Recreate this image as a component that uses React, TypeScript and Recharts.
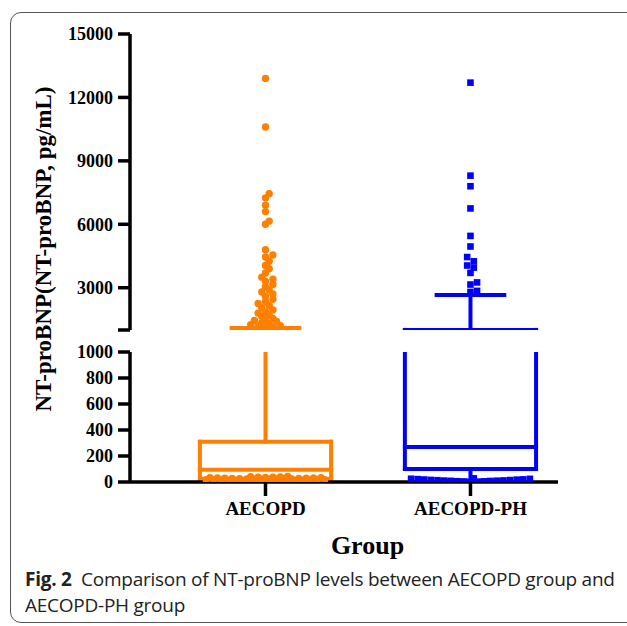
// App.tsx
// Box-and-whisker chart (10-90 style whiskers + outlying points) with a broken Y axis.
// Two stacked Recharts panels share one numeric X scale: 1000–15000 on top, 0–1000 below.

import * as React from "react";
import { ComposedChart, Scatter, XAxis, YAxis, ReferenceLine } from "recharts";

const groups = ["AECOPD", "AECOPD-PH"];
const groupColors = ["#FF7F00", "#0000FF"];

// [lower whisker, Q1, median, Q3, upper whisker]
const aecopdBox = [5, 25, 95, 310, 1100];
const aecopdPhBox = [10, 100, 270, 1005, 2650];

// points drawn outside the whiskers
const aecopdPoints = [
  12900, 10600, 7450, 7250, 6900, 6600, 6150, 6000, 4800, 4550, 4450, 4250,
  4050, 3900, 3700, 3500, 3400, 3300, 3150, 3050, 2900, 2800, 2700, 2600,
  2450, 2350, 2250, 2150, 2050, 1950, 1850, 1800, 1700, 1650, 1550, 1500,
  1450, 1400, 1350, 1300, 1250, 1200, 1180, 1150, 1120,
  2, 3, 4, 5, 6, 7, 8, 9, 10, 11, 12, 13, 14, 15, 16, 17, 18, 19, 20, 21,
  22, 23, 24, 25, 26, 27, 28, 29, 30, 31, 32, 33, 34, 35, 36, 37, 38, 40, 42,
];
const aecopdPhPoints = [
  12700, 8300, 7800, 6750, 5450, 4950, 4450, 4250, 4050, 3950, 3700, 3250,
  3150, 2850, 2800,
  1, 2, 4, 5, 6, 8, 9, 10, 11, 12, 14, 15, 16, 18, 19, 20, 22, 24, 25, 28,
];

const topTicks = [1000, 3000, 6000, 9000, 12000, 15000];
const bottomTicks = [0, 200, 400, 600, 800, 1000];

const W = 627;
const H = 626;
const PLOT_LEFT = 130;
const PLOT_RIGHT = 558;
const X_DOMAIN = [0.339, 2.427];
const BOX_HALF = 0.32;
const CAP_HALF = 0.165;

const serif = "'Liberation Serif', 'Times New Roman', serif";

interface IPanel {
  domain: [number, number];
  top: number;
  bottom: number;
  ticks: number[];
  showX: boolean;
}

const panels: IPanel[] = [
  { domain: [1000, 15000], top: 34, bottom: 330, ticks: topTicks, showX: false },
  { domain: [0, 1000], top: 352, bottom: 482, ticks: bottomTicks, showX: true },
];

const pxPerX = (PLOT_RIGHT - PLOT_LEFT) / (X_DOMAIN[1] - X_DOMAIN[0]);

// simple deterministic beeswarm: spread points sideways until they stop overlapping
function swarm(values: number[], pxPerY: number, d: number, overlap: number, maxHalf: number): number[] {
  const order = values.map((_, i) => i).sort((a, b) => values[a] - values[b]);
  const placed: { x: number; y: number }[] = [];
  const out: number[] = new Array(values.length).fill(0);
  const step = d * 0.5;
  const minDist = d * overlap;
  for (const i of order) {
    const y = values[i] * pxPerY;
    const candidates: number[] = [0];
    for (let k = 1; k * step <= maxHalf; k++) candidates.push(k * step, -k * step);
    let chosen = 0;
    let best = -1;
    for (const c of candidates) {
      let nearest = Infinity;
      placed.forEach((p) => {
        nearest = Math.min(nearest, Math.hypot(p.x - c, p.y - y));
      });
      if (nearest >= minDist) {
        chosen = c;
        break;
      }
      if (nearest > best) {
        best = nearest;
        chosen = c;
      }
    }
    placed.push({ x: chosen, y });
    out[i] = chosen / pxPerX;
  }
  return out;
}

const Dot = (props: any) => (
  <circle cx={props.cx} cy={props.cy} r={3.7} fill={groupColors[0]} />
);
const Square = (props: any) => (
  <rect x={props.cx - 3.3} y={props.cy - 3.3} width={6.6} height={6.6} fill={groupColors[1]} />
);

function BoxLines(pos: number, stats: number[], color: string, domain: [number, number], key: string) {
  const [lo, q1, med, q3, hi] = stats;
  const clamp = (v: number) => Math.max(domain[0], Math.min(domain[1], v));
  const inside = (v: number) => v >= domain[0] && v <= domain[1];
  const lines: React.ReactNode[] = [];
  const seg = (id: string, x1: number, y1: number, x2: number, y2: number) =>
    lines.push(
      <ReferenceLine
        key={key + id}
        segment={[{ x: x1, y: y1 }, { x: x2, y: y2 }]}
        stroke={color}
        strokeWidth={4}
        strokeLinecap="square"
        ifOverflow="hidden"
      />,
    );
  const a = pos - BOX_HALF;
  const b = pos + BOX_HALF;
  if (clamp(q3) !== clamp(q1)) {
    seg("l", a, clamp(q1), a, clamp(q3));
    seg("r", b, clamp(q1), b, clamp(q3));
  }
  if (inside(q1)) seg("q1", a, q1, b, q1);
  if (inside(q3)) seg("q3", a, q3, b, q3);
  if (inside(med)) seg("m", a, med, b, med);
  // whiskers
  if (clamp(hi) > clamp(q3)) seg("wu", pos, clamp(q3), pos, clamp(hi));
  if (inside(hi)) seg("cu", pos - CAP_HALF, hi, pos + CAP_HALF, hi);
  if (clamp(lo) < clamp(q1)) seg("wl", pos, clamp(lo), pos, clamp(q1));
  if (inside(lo)) seg("cl", pos - CAP_HALF, lo, pos + CAP_HALF, lo);
  return lines;
}

const axisStroke = { stroke: "#000", strokeWidth: 3.5 };

function Panel({ panel }: { panel: IPanel }) {
  const plotH = panel.bottom - panel.top;
  const pxPerY = plotH / (panel.domain[1] - panel.domain[0]);
  const inPanel = (v: number) =>
    panel.domain[0] === 0 ? v <= panel.domain[1] : v > panel.domain[0];

  const orangeVals = aecopdPoints.filter(inPanel);
  const blueVals = aecopdPhPoints.filter(inPanel);
  const overlap = panel.showX ? 0.8 : 0.6;
  const orangeOff = swarm(orangeVals, pxPerY, 7.4, overlap, BOX_HALF * pxPerX - 3);
  const blueOff = swarm(blueVals, pxPerY, 6.6, 0.85, BOX_HALF * pxPerX - 3);
  const orangeData = orangeVals.map((v, i) => ({ x: 1 + orangeOff[i], y: v }));
  const blueData = blueVals.map((v, i) => ({ x: 2 + blueOff[i], y: v }));

  const xHeight = 40;
  return (
    <div style={{ position: "absolute", left: 0, top: 0 }}>
      <ComposedChart
        width={W}
        height={H}
        margin={{
          top: panel.top,
          right: W - PLOT_RIGHT,
          left: 0,
          bottom: panel.showX ? H - panel.bottom - xHeight : H - panel.bottom,
        }}
      >
        <XAxis
          type="number"
          dataKey="x"
          domain={X_DOMAIN}
          allowDataOverflow
          hide={!panel.showX}
          height={xHeight}
          ticks={[1, 2]}
          interval={0}
          tickFormatter={(v: number) => groups[v - 1]}
          axisLine={axisStroke}
          tickLine={axisStroke}
          tickSize={14}
          tickMargin={6}
          tick={{ fill: "#000", fontSize: 19, fontWeight: 700, fontFamily: serif }}
        />
        <YAxis
          type="number"
          dataKey="y"
          domain={panel.domain}
          allowDataOverflow
          width={PLOT_LEFT}
          ticks={panel.ticks}
          interval={0}
          tickFormatter={(v: number) => (panel.showX || v !== 1000 ? String(v) : "")}
          axisLine={axisStroke}
          tickLine={axisStroke}
          tickSize={12}
          tickMargin={5}
          tick={{ fill: "#000", fontSize: 18, fontWeight: 700, fontFamily: serif }}
        />
        {BoxLines(1, aecopdBox, groupColors[0], panel.domain, "o")}
        {BoxLines(2, aecopdPhBox, groupColors[1], panel.domain, "b")}
        <Scatter data={orangeData} shape={Dot} isAnimationActive={false} />
        <Scatter data={blueData} shape={Square} isAnimationActive={false} />
      </ComposedChart>
    </div>
  );
}

export default function App() {
  return (
    <div
      style={{
        position: "absolute",
        left: 0,
        top: 0,
        width: W,
        height: H,
        overflow: "hidden",
        background: "#fff",
      }}
    >
      <div
        style={{
          position: "absolute",
          left: 10,
          top: 12,
          width: 640,
          height: 609,
          border: "1.5px solid #555",
          borderRadius: 11,
        }}
      />
      {panels.map((p, i) => (
        <Panel key={i} panel={p} />
      ))}
      <svg
        width={W}
        height={H}
        style={{ position: "absolute", left: 0, top: 0, pointerEvents: "none" }}
      >
        <text
          transform="translate(51, 249) rotate(-90)"
          textAnchor="middle"
          fontFamily={serif}
          fontWeight={700}
          fontSize={23}
          fill="#000"
        >
          NT-proBNP(NT-proBNP, pg/mL)
        </text>
        <text
          x={367.5}
          y={554}
          textAnchor="middle"
          fontFamily={serif}
          fontWeight={700}
          fontSize={26}
          fill="#000"
        >
          Group
        </text>
      </svg>
      <div
        style={{
          position: "absolute",
          left: 25,
          top: 566,
          width: 602,
          whiteSpace: "nowrap",
          fontFamily: "'Open Sans', sans-serif",
          fontSize: 19,
          letterSpacing: -0.25,
          lineHeight: "26px",
          color: "#222",
        }}
      >
        <b>Fig. 2</b>&nbsp;&nbsp;Comparison of NT-proBNP levels between AECOPD group and
        <br />
        AECOPD-PH group
      </div>
    </div>
  );
}
